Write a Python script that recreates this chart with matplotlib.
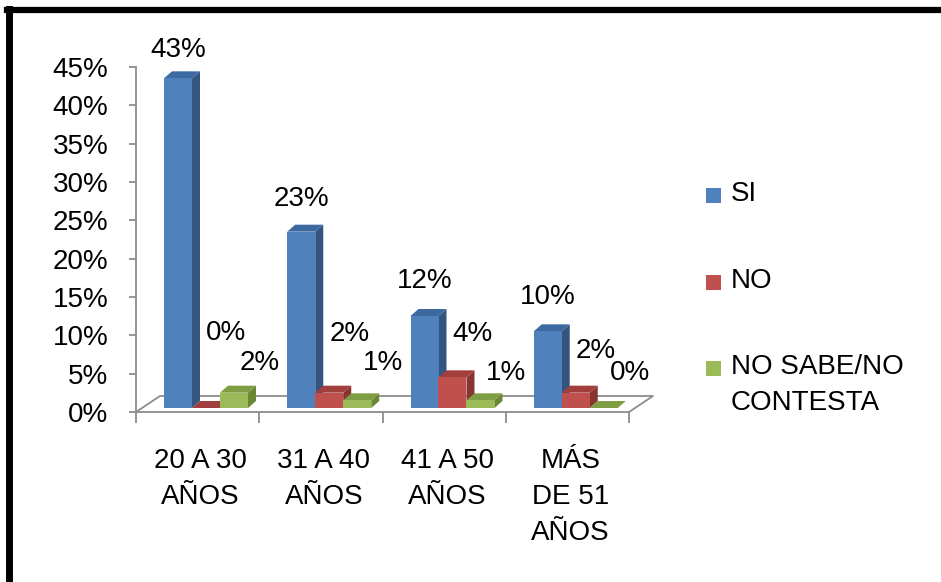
import matplotlib
matplotlib.use("Agg")
import matplotlib.pyplot as plt
from matplotlib.patches import Polygon, Rectangle
from matplotlib.lines import Line2D

# datos del grafico
categorias = ["20 A 30\nAÑOS", "31 A 40\nAÑOS", "41 A 50\nAÑOS", "MÁS\nDE 51\nAÑOS"]
series = ["SI", "NO", "NO SABE/NO\nCONTESTA"]
si = [43, 23, 12, 10]
no = [0, 2, 4, 2]
no_sabe = [2, 1, 1, 0]
valores = [si, no, no_sabe]

# colores (frente, arriba, lado)
colores = [
    ("#4F81BD", "#3D69A1", "#34557F"),
    ("#C0504D", "#A23F3C", "#873532"),
    ("#9BBB59", "#7F9D42", "#6A8736"),
]

# ajustes de posicion de etiquetas (en %, sobre el valor) y desplazamiento en x
label_rise = [[3.7, 4.3, 4.5, 4.5],
              [9.8, 7.7, 5.7, 5.5],
              [3.9, 4.9, 3.6, 4.6]]
label_dx = [0.0, 0.165, 0.21]

plt.rcParams['font.family'] = ['Liberation Sans', 'DejaVu Sans']
FS = 20
LS = 1.5

W, H = 941, 582
fig = plt.figure(figsize=(W / 100, H / 100), dpi=100)

# ejes: x 0..4 -> px 136..629 ; y 0..45 -> px 412..67
ax = fig.add_axes([136 / W, (H - 412) / H, 493 / W, 345 / H])
ax.set_xlim(0, 4)
ax.set_ylim(0, 45)
ax.patch.set_alpha(0)
for s in ["top", "right"]:
    ax.spines[s].set_visible(False)
gris = "#8C8C8C"
ax.spines["left"].set_color(gris)
ax.spines["bottom"].set_color(gris)
ax.spines["left"].set_linewidth(1.3)
ax.spines["bottom"].set_linewidth(1.3)
ax.set_yticks(range(0, 46, 5))
ax.set_yticklabels([f"{v}%" for v in range(0, 46, 5)], fontsize=FS)
ax.set_xticks(range(5))
ax.set_xticklabels([])
ax.tick_params(axis="y", length=5, width=1.3, color=gris, pad=15)
ax.tick_params(axis="x", length=8, width=1.3, color=gris)

# piso 3D
px_x = 4 / 493   # unidades por pixel en x
px_y = 45 / 345  # unidades por pixel en y
fdx, fdy = 24 * px_x, 16 * px_y
ax.plot([0, fdx, 4 + fdx, 4], [0, fdy, fdy, 0], color=gris, lw=1.3, clip_on=False, zorder=1)

# barras 3D
bw = 28 * px_x
off = 28 * px_x
base = 4 * px_y
bdx, bdy = 8 * px_x, 7 * px_y
for j, vals in enumerate(valores):
    front, top, side = colores[j]
    for i, v in enumerate(vals):
        x0 = i + off + j * bw
        x1 = x0 + bw
        y0 = base
        y1 = base + v
        z = 3 + i * 3 + j
        ax.add_patch(Polygon([(x1, y0), (x1 + bdx, y0 + bdy), (x1 + bdx, y1 + bdy), (x1, y1)],
                             closed=True, fc=side, ec="none", zorder=z, clip_on=False))
        ax.add_patch(Polygon([(x0, y1), (x0 + bdx, y1 + bdy), (x1 + bdx, y1 + bdy), (x1, y1)],
                             closed=True, fc=top, ec="none", zorder=z, clip_on=False))
        ax.add_patch(Rectangle((x0, y0), bw, v, fc=front, ec="none", zorder=z, clip_on=False))
        ax.text(x0 + bw / 2 + label_dx[j], y1 + label_rise[j][i], f"{v}%",
                ha="center", va="center", fontsize=FS, zorder=2, clip_on=False)

# etiquetas de categoria
for i, c in enumerate(categorias):
    ax.text(i + 0.5 + 3 * px_x, -36 * px_y, c, ha="center", va="top", fontsize=FS,
            linespacing=LS, clip_on=False)

# leyenda manual
ley_y = [195, 282, 368]
for j, nombre in enumerate(series):
    yc = ley_y[j]
    fig.add_artist(Rectangle((706 / W, (H - yc - 8) / H), 15 / W, 15 / H,
                             transform=fig.transFigure, fc=colores[j][0], ec="none"))
    fig.text(731 / W, (H - yc + 14) / H, nombre, ha="left", va="top", fontsize=FS,
             linespacing=LS)

# marco
fig.add_artist(Line2D([9 / W, 9 / W], [0, (H - 9) / H], color="black", lw=5, transform=fig.transFigure))
fig.add_artist(Line2D([6.5 / W, 1], [(H - 9.5) / H, (H - 9.5) / H], color="black", lw=4.5,
                      transform=fig.transFigure))

fig.savefig("out.png", dpi=100)
